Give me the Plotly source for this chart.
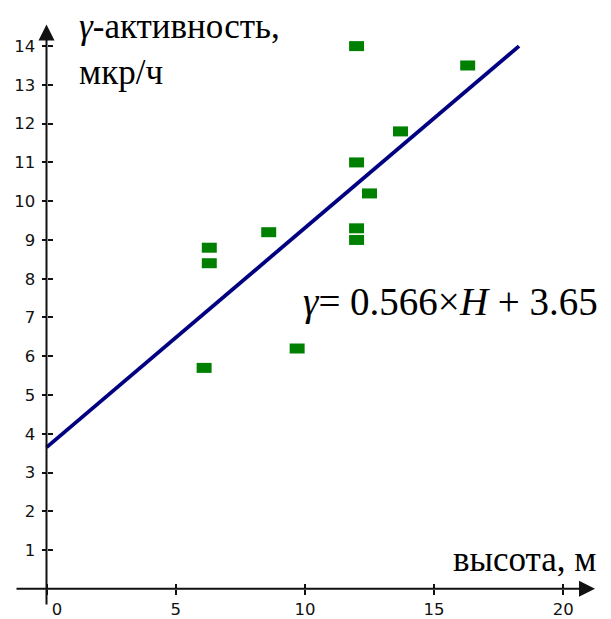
import plotly.graph_objects as go

# Measured points: height H (m) and gamma activity (mkR/h)
height_m = [6.1, 6.3, 6.3, 8.6, 9.7, 12.0, 12.0, 12.0, 12.0, 12.5, 13.7, 16.3]
activity = [5.7, 8.4, 8.8, 9.2, 6.2, 14.0, 11.0, 9.3, 9.0, 10.2, 11.8, 13.5]

# Linear fit  gamma = slope * H + intercept
slope = 0.566
intercept = 3.65
fit_top = 14.0

x_ticks = [0, 5, 10, 15, 20]
x_ticktext = ["\u2007\u20070", "5", "10", "15", "20"]
y_ticks = list(range(1, 15))

# Figure geometry (pixels) used to place the axes at the origin
W, H = 611, 619
ORIGIN_PX = (46.5, 601.5)
PX_PER_X = 25.84
PX_PER_Y = 39.6

x_range = [-ORIGIN_PX[0] / PX_PER_X, (W - ORIGIN_PX[0]) / PX_PER_X]
y_range = [(ORIGIN_PX[1] - H) / PX_PER_Y, ORIGIN_PX[1] / PX_PER_Y]

fit_x = [0.0, (fit_top - intercept) / slope]
fit_y = [slope * v + intercept for v in fit_x]

fig = go.Figure()

fig.add_trace(go.Scatter(
    x=fit_x, y=fit_y, mode="lines",
    line=dict(color="#000080", width=3.8),
    hoverinfo="skip", showlegend=False,
))

fig.add_trace(go.Scatter(
    x=height_m, y=activity, mode="markers",
    marker=dict(symbol="line-ew", size=10.7,
                line=dict(color="#008000", width=10)),
    showlegend=False,
))

# empty trace so the overlaid tick axes get drawn
fig.add_trace(go.Scatter(x=[], y=[], xaxis="x2", yaxis="y2", showlegend=False))

tick_font = dict(family="DejaVu Sans", size=16.5, color="#111111")
x_pos = (H - ORIGIN_PX[1]) / H
y_pos = ORIGIN_PX[0] / W

common = dict(showgrid=False, zeroline=False, showline=False,
              tickcolor="#111111", tickwidth=1.5, ticklen=5)

fig.update_layout(
    width=W, height=H,
    margin=dict(l=0, r=0, t=0, b=0),
    paper_bgcolor="white", plot_bgcolor="white",
    xaxis=dict(range=x_range, domain=[0, 1], anchor="free", position=x_pos,
               ticks="outside", tickvals=x_ticks, ticktext=x_ticktext,
               tickfont=tick_font, **common),
    yaxis=dict(range=y_range, domain=[0, 1], anchor="free", position=y_pos,
               ticks="outside", tickvals=y_ticks, tickfont=tick_font,
               ticklabelstandoff=3, **common),
    xaxis2=dict(range=x_range, matches="x", overlaying="x", anchor="free",
                position=x_pos, ticks="inside", tickvals=x_ticks,
                showticklabels=False, **common),
    yaxis2=dict(range=y_range, matches="y", overlaying="y", anchor="free",
                position=y_pos, ticks="inside", tickvals=y_ticks,
                showticklabels=False, **common),
)

axis_color = "#111111"
x_tip = (595 - ORIGIN_PX[0]) / PX_PER_X
x_tail = (15 - ORIGIN_PX[0]) / PX_PER_X
y_tip = (ORIGIN_PX[1] - 25) / PX_PER_Y
y_tail = y_range[0]

annotations = [
    # x axis line with arrow
    dict(x=x_tip, y=0, ax=x_tail, ay=0, xref="x", yref="y", axref="x", ayref="y",
         text="", showarrow=True, arrowhead=2, arrowsize=1.6, arrowwidth=2,
         arrowcolor=axis_color, standoff=0),
    # y axis line with arrow
    dict(x=0, y=y_tip, ax=0, ay=y_tail, xref="x", yref="y", axref="x", ayref="y",
         text="", showarrow=True, arrowhead=2, arrowsize=1.6, arrowwidth=2,
         arrowcolor=axis_color, standoff=0),
]

serif = "Liberation Serif, Times New Roman, serif"
label_font = dict(family=serif, size=35, color="black")
annotations += [
    dict(text="<i>γ</i>-активность,<br>мкр/ч", xref="paper", yref="paper",
         x=77 / W, y=1 - 5 / H, xanchor="left", yanchor="top", align="left",
         showarrow=False, font=label_font),
    dict(text="высота, м", xref="paper", yref="paper",
         x=599 / W, y=1 - 550 / H, xanchor="right", yanchor="top",
         showarrow=False, font=label_font),
    dict(text="<i>γ</i>= 0.566×<i>H</i> + 3.65", xref="paper", yref="paper",
         x=600 / W, y=1 - 284 / H, xanchor="right", yanchor="top",
         showarrow=False, font=dict(family=serif, size=39, color="black")),
]

fig.update_layout(annotations=annotations)

fig.write_html("out.html")
